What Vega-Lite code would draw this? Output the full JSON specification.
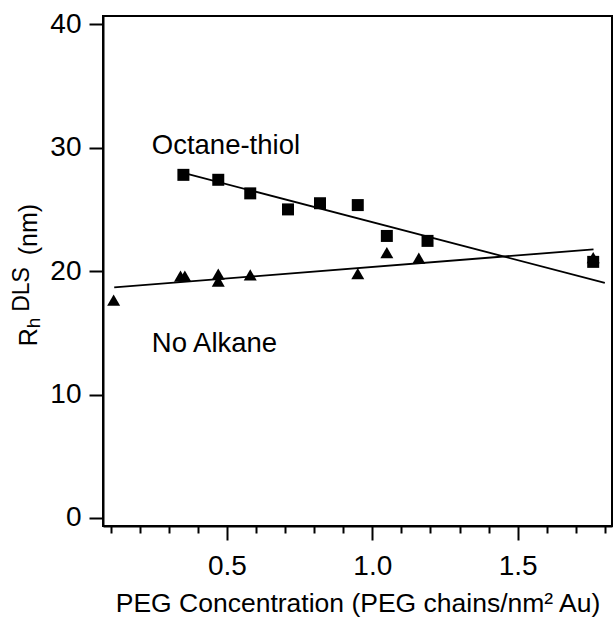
{
  "$schema": "https://vega.github.io/schema/vega-lite/v6.json",
  "width": 509,
  "height": 510,
  "autosize": {"type": "none"},
  "padding": {"left": 103, "top": 16, "right": 1, "bottom": 92},
  "background": "white",
  "config": {
    "view": {"stroke": "black", "strokeWidth": 2},
    "font": "Liberation Sans",
    "axis": {
      "grid": false,
      "domainColor": "black",
      "domainWidth": 2,
      "tickColor": "black",
      "tickWidth": 2,
      "labelColor": "black",
      "titleColor": "black",
      "labelFont": "Liberation Sans",
      "titleFont": "Liberation Sans"
    }
  },
  "datasets": {
    "octane": [
      {"conc": 0.35, "rh": 27.8},
      {"conc": 0.47, "rh": 27.4},
      {"conc": 0.58, "rh": 26.3},
      {"conc": 0.71, "rh": 25.0},
      {"conc": 0.82, "rh": 25.5},
      {"conc": 0.95, "rh": 25.35},
      {"conc": 1.05, "rh": 22.85},
      {"conc": 1.19, "rh": 22.45},
      {"conc": 1.76, "rh": 20.75}
    ],
    "noalkane": [
      {"conc": 0.11, "rh": 17.65},
      {"conc": 0.34, "rh": 19.6},
      {"conc": 0.355, "rh": 19.6},
      {"conc": 0.47, "rh": 19.75},
      {"conc": 0.47, "rh": 19.2},
      {"conc": 0.58, "rh": 19.7},
      {"conc": 0.95, "rh": 19.8},
      {"conc": 1.05, "rh": 21.5},
      {"conc": 1.16, "rh": 21.05},
      {"conc": 1.76, "rh": 21.1}
    ],
    "fit_octane": [
      {"conc": 0.35, "rh": 27.96},
      {"conc": 1.80, "rh": 19.05}
    ],
    "fit_noalkane": [
      {"conc": 0.112, "rh": 18.68},
      {"conc": 1.761, "rh": 21.76}
    ],
    "annotations": [
      {"conc": 0.2413, "rh": 29.45, "label": "Octane-thiol"},
      {"conc": 0.2413, "rh": 13.42, "label": "No Alkane"}
    ],
    "ytitle_main": [
      {"conc": -0.1526, "rh": 13.92, "label": "R"},
      {"conc": -0.1526, "rh": 21.28, "label": "(nm)"}
    ],
    "ytitle_sub": [
      {"conc": -0.1423, "rh": 15.38, "label": "h"}
    ],
    "ytitle_sup": [
      {"conc": -0.1818, "rh": 16.7, "label": "DLS"}
    ]
  },
  "layer": [
    {
      "data": {"name": "fit_octane"},
      "mark": {"type": "line", "color": "black", "strokeWidth": 1.8},
      "encoding": {
        "x": {
          "field": "conc",
          "type": "quantitative",
          "scale": {"domain": [0.0734, 1.8247], "nice": false, "zero": false},
          "axis": {
            "title": "PEG Concentration (PEG chains/nm² Au)",
            "values": [0.1, 0.2, 0.3, 0.4, 0.5, 0.6, 0.7, 0.8, 0.9, 1.0, 1.1, 1.2, 1.3, 1.4, 1.5, 1.6, 1.7, 1.8],
            "tickCount": 40,
            "tickSize": {"condition": {"test": "abs(datum.value*2 - round(datum.value*2)) < 0.001", "value": 14}, "value": 7},
            "labelExpr": "abs(datum.value*2 - round(datum.value*2)) < 0.001 ? format(datum.value, '.1f') : ''",
            "labelFontSize": 28,
            "labelPadding": 12,
            "labelOverlap": false,
            "labelFlush": false,
            "titleFontSize": 26.5,
            "titleFontWeight": "normal",
            "titlePadding": 10
          }
        },
        "y": {
          "field": "rh",
          "type": "quantitative",
          "scale": {"domain": [-0.65, 40.67], "nice": false, "zero": false},
          "axis": {
            "title": null,
            "values": [0, 10, 20, 30, 40],
            "tickSize": 14,
            "labelFontSize": 28,
            "labelPadding": 8,
            "labelFlush": false
          }
        }
      }
    },
    {
      "data": {"name": "fit_noalkane"},
      "mark": {"type": "line", "color": "black", "strokeWidth": 1.8},
      "encoding": {
        "x": {"field": "conc", "type": "quantitative"},
        "y": {"field": "rh", "type": "quantitative"}
      }
    },
    {
      "data": {"name": "octane"},
      "mark": {"type": "point", "shape": "square", "filled": true, "size": 144, "color": "black", "opacity": 1},
      "encoding": {
        "x": {"field": "conc", "type": "quantitative"},
        "y": {"field": "rh", "type": "quantitative"}
      }
    },
    {
      "data": {"name": "noalkane"},
      "mark": {"type": "point", "shape": "triangle-up", "filled": true, "size": 169, "color": "black", "opacity": 1},
      "encoding": {
        "x": {"field": "conc", "type": "quantitative"},
        "y": {"field": "rh", "type": "quantitative"}
      }
    },
    {
      "data": {"name": "annotations"},
      "mark": {"type": "text", "align": "left", "baseline": "alphabetic", "fontSize": 27.5, "font": "Liberation Sans", "color": "black"},
      "encoding": {
        "x": {"field": "conc", "type": "quantitative"},
        "y": {"field": "rh", "type": "quantitative"},
        "text": {"field": "label"}
      }
    },
    {
      "data": {"name": "ytitle_main"},
      "mark": {"type": "text", "align": "left", "baseline": "alphabetic", "angle": 270, "fontSize": 25, "font": "Liberation Sans", "color": "black"},
      "encoding": {
        "x": {"field": "conc", "type": "quantitative"},
        "y": {"field": "rh", "type": "quantitative"},
        "text": {"field": "label"}
      }
    },
    {
      "data": {"name": "ytitle_sub"},
      "mark": {"type": "text", "align": "left", "baseline": "alphabetic", "angle": 270, "fontSize": 19, "font": "Liberation Sans", "color": "black"},
      "encoding": {
        "x": {"field": "conc", "type": "quantitative"},
        "y": {"field": "rh", "type": "quantitative"},
        "text": {"field": "label"}
      }
    },
    {
      "data": {"name": "ytitle_sup"},
      "mark": {"type": "text", "align": "left", "baseline": "alphabetic", "angle": 270, "fontSize": 23, "font": "Liberation Sans", "color": "black"},
      "encoding": {
        "x": {"field": "conc", "type": "quantitative"},
        "y": {"field": "rh", "type": "quantitative"},
        "text": {"field": "label"}
      }
    }
  ]
}
